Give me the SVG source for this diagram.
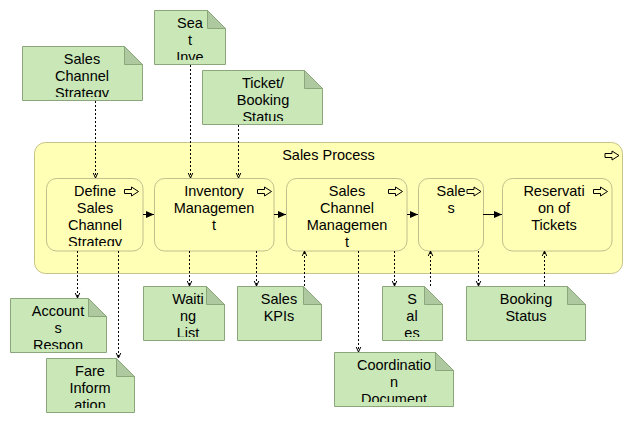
<svg xmlns="http://www.w3.org/2000/svg" width="633" height="423" viewBox="0 0 633 423">
<style>
text{font-family:"Liberation Sans",Arial,sans-serif;font-size:14.5px;fill:#000;text-anchor:middle}
.note{fill:#c9e7b7;stroke:#8ba67b;stroke-width:1}
.fold{fill:#aec8a0;stroke:#8ba67b;stroke-width:1}
.cont{fill:#ffffb5;stroke:#c6c38a;stroke-width:1}
.sub{fill:#ffffb5;stroke:#c2bf8e;stroke-width:1}
.icon{fill:none;stroke:#000;stroke-width:1}
.dot{fill:none;stroke:#000;stroke-width:1;stroke-dasharray:2,2}
.flow{fill:none;stroke:#000;stroke-width:1}
</style>
<defs>
<marker id="open" markerWidth="10" markerHeight="10" refX="5" refY="6" orient="auto" markerUnits="userSpaceOnUse" viewBox="0 0 10 10">
<path d="M2.5,0.5 L5,6 L7.5,0.5" fill="none" stroke="#000" stroke-width="1" transform="rotate(-90 5 6)"/>
</marker>
<marker id="solid" markerWidth="10" markerHeight="10" refX="9" refY="5" orient="auto" markerUnits="userSpaceOnUse" viewBox="0 0 10 10">
<path d="M1,1.5 L9,5 L1,8.5 Z" fill="#000"/>
</marker>
<clipPath id="c1"><rect x="22" y="46" width="120" height="51"/></clipPath>
<clipPath id="c2"><rect x="154" y="10" width="71" height="50"/></clipPath>
<clipPath id="c3"><rect x="202" y="70" width="120" height="51"/></clipPath>
<clipPath id="c4"><rect x="10" y="298" width="97" height="51"/></clipPath>
<clipPath id="c5"><rect x="46" y="358" width="88" height="50"/></clipPath>
<clipPath id="c6"><rect x="143" y="286" width="81" height="51"/></clipPath>
<clipPath id="c7"><rect x="382" y="286" width="61" height="51"/></clipPath>
<clipPath id="c8"><rect x="334" y="352" width="119" height="50"/></clipPath>
<clipPath id="c9"><rect x="46" y="178" width="97" height="68"/></clipPath>
<path id="ico" class="icon" d="M0,-2 H7 V-4.5 L14,0 L7,4.5 V2 H0 Z"/>
</defs>

<g id="sales-process">
<rect class="cont" x="34.5" y="142.5" width="588" height="131" rx="11"/>
<text x="328.5" y="160">Sales Process</text>
<use href="#ico" x="605" y="155.5"/>
</g>

<g id="define-sales-channel-strategy">
<rect class="sub" x="46.5" y="178.5" width="96.5" height="72.5" rx="10"/>
<g clip-path="url(#c9)">
<text x="95" y="196">Define</text>
<text x="95" y="213">Sales</text>
<text x="95" y="230">Channel</text>
<text x="95" y="247">Strategy</text>
</g>
<use href="#ico" x="124.5" y="191.5"/>
</g>

<g id="inventory-management">
<rect class="sub" x="154.5" y="178.5" width="119.5" height="72.5" rx="10"/>
<text x="214" y="196">Inventory</text>
<text x="214" y="213">Managemen</text>
<text x="214" y="230">t</text>
<use href="#ico" x="257.5" y="191.5"/>
</g>

<g id="sales-channel-management">
<rect class="sub" x="286.5" y="178.5" width="120.5" height="72.5" rx="10"/>
<text x="347" y="196">Sales</text>
<text x="347" y="213">Channel</text>
<text x="347" y="230">Managemen</text>
<text x="347" y="247">t</text>
<use href="#ico" x="388.5" y="191.5"/>
</g>

<g id="sales">
<rect class="sub" x="418.5" y="178.5" width="65" height="72.5" rx="10"/>
<text x="451" y="196">Sale</text>
<text x="451" y="213">s</text>
<use href="#ico" x="467" y="191.5"/>
</g>

<g id="reservation-of-tickets">
<rect class="sub" x="502.5" y="178.5" width="109.5" height="72.5" rx="10"/>
<text x="554" y="196">Reservati</text>
<text x="554" y="213">on of</text>
<text x="554" y="230">Tickets</text>
<use href="#ico" x="593.5" y="191.5"/>
</g>

<g id="note-sales-channel-strategy">
<path class="note" d="M22.5,46.5 H124.5 L142.5,64.5 V100.5 H22.5 Z"/>
<path class="fold" d="M124.5,46.5 V64.5 H142.5 Z"/>
<g clip-path="url(#c1)">
<text x="82" y="64">Sales</text>
<text x="82" y="81">Channel</text>
<text x="82" y="98">Strategy</text>
</g>
</g>

<g id="note-seat-inventory">
<path class="note" d="M154.5,10.5 H207.5 L225.5,28.5 V64.5 H154.5 Z"/>
<path class="fold" d="M207.5,10.5 V28.5 H225.5 Z"/>
<g clip-path="url(#c2)">
<text x="190" y="28">Sea</text>
<text x="190" y="45">t</text>
<text x="190" y="62">Inve</text>
</g>
</g>

<g id="note-ticket-booking-status">
<path class="note" d="M202.5,70.5 H304.5 L322.5,88.5 V124.5 H202.5 Z"/>
<path class="fold" d="M304.5,70.5 V88.5 H322.5 Z"/>
<g clip-path="url(#c3)">
<text x="263" y="88">Ticket/</text>
<text x="263" y="105">Booking</text>
<text x="263" y="122">Status</text>
</g>
</g>

<g id="note-accounts-responsibility">
<path class="note" d="M10.5,298.5 H88.5 L106.5,316.5 V352.5 H10.5 Z"/>
<path class="fold" d="M88.5,298.5 V316.5 H106.5 Z"/>
<g clip-path="url(#c4)">
<text x="58" y="316">Account</text>
<text x="58" y="333">s</text>
<text x="58" y="350">Respon</text>
</g>
</g>

<g id="note-fare-information">
<path class="note" d="M46.5,358.5 H116.5 L134.5,376.5 V412.5 H46.5 Z"/>
<path class="fold" d="M116.5,358.5 V376.5 H134.5 Z"/>
<g clip-path="url(#c5)">
<text x="90" y="376">Fare</text>
<text x="90" y="393">Inform</text>
<text x="90" y="410">ation</text>
</g>
</g>

<g id="note-waiting-list">
<path class="note" d="M143.5,286.5 H206.5 L224.5,304.5 V340.5 H143.5 Z"/>
<path class="fold" d="M206.5,286.5 V304.5 H224.5 Z"/>
<g clip-path="url(#c6)">
<text x="188" y="304">Waiti</text>
<text x="188" y="321">ng</text>
<text x="188" y="338">List</text>
</g>
</g>

<g id="note-sales-kpis">
<path class="note" d="M237.5,286.5 H303.5 L321.5,304.5 V340.5 H237.5 Z"/>
<path class="fold" d="M303.5,286.5 V304.5 H321.5 Z"/>
<text x="279" y="304">Sales</text>
<text x="279" y="321">KPIs</text>
</g>

<g id="note-sales">
<path class="note" d="M382.5,286.5 H424.5 L442.5,304.5 V340.5 H382.5 Z"/>
<path class="fold" d="M424.5,286.5 V304.5 H442.5 Z"/>
<g clip-path="url(#c7)">
<text x="412" y="304">S</text>
<text x="412" y="321">al</text>
<text x="412" y="338">es</text>
</g>
</g>

<g id="note-booking-status">
<path class="note" d="M466.5,286.5 H567.5 L585.5,304.5 V340.5 H466.5 Z"/>
<path class="fold" d="M567.5,286.5 V304.5 H585.5 Z"/>
<text x="526" y="304">Booking</text>
<text x="526" y="321">Status</text>
</g>

<g id="note-coordination-document">
<path class="note" d="M334.5,352.5 H435.5 L453.5,370.5 V406.5 H334.5 Z"/>
<path class="fold" d="M435.5,352.5 V370.5 H453.5 Z"/>
<g clip-path="url(#c8)">
<text x="394" y="370">Coordinatio</text>
<text x="394" y="387">n</text>
<text x="394" y="404">Document</text>
</g>
</g>

<g id="connectors">
<path class="dot" d="M95.5,101 V178" marker-end="url(#open)"/>
<path class="dot" d="M190.5,65 V178" marker-end="url(#open)"/>
<path class="dot" d="M238.5,125 V178" marker-end="url(#open)"/>
<path class="dot" d="M77.5,251 V298" marker-end="url(#open)"/>
<path class="dot" d="M118.5,251 V358" marker-end="url(#open)"/>
<path class="dot" d="M189.5,251 V286" marker-end="url(#open)"/>
<path class="dot" d="M256.5,251 V286" marker-end="url(#open)"/>
<path class="dot" d="M304.5,286 V251" marker-end="url(#open)"/>
<path class="dot" d="M358.5,251 V352" marker-end="url(#open)"/>
<path class="dot" d="M394.5,251 V286" marker-end="url(#open)"/>
<path class="dot" d="M430.5,286 V251" marker-end="url(#open)"/>
<path class="dot" d="M478.5,251 V286" marker-end="url(#open)"/>
<path class="dot" d="M544.5,286 V251" marker-end="url(#open)"/>
<path class="flow" d="M143,214.5 H154" marker-end="url(#solid)"/>
<path class="flow" d="M274,214.5 H286" marker-end="url(#solid)"/>
<path class="flow" d="M407,214.5 H418" marker-end="url(#solid)"/>
<path class="flow" d="M483,214.5 H502" marker-end="url(#solid)"/>
</g>
</svg>
